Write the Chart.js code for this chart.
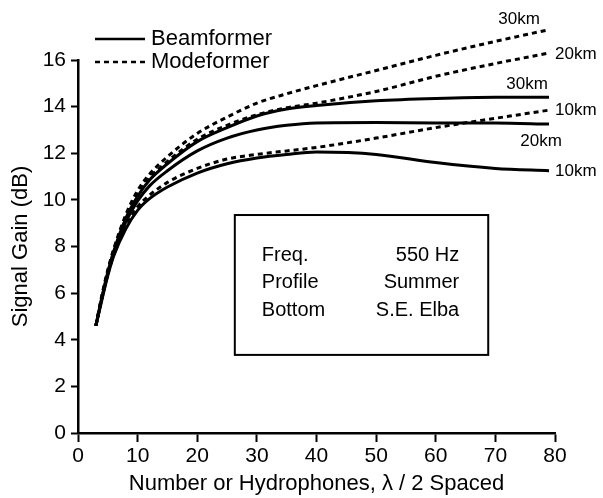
<!DOCTYPE html>
<html>
<head>
<meta charset="utf-8">
<script src="https://cdn.jsdelivr.net/npm/chart.js@4.4.0/dist/chart.umd.min.js"></script>
<style>
  html, body { margin: 0; padding: 0; background: #fff; }
  #wrap { width: 603px; height: 498px; }
</style>
</head>
<body>
<div id="wrap"><canvas id="gainChart"></canvas></div>
<script>
// number of hydrophones (x) and signal gain in dB for each case
const hydrophones = [3, 4, 5, 6, 8, 10, 12, 15, 20, 25, 30, 35, 40, 50, 60, 70, 79];
const beam30 = [4.6, 5.8, 6.9, 7.8, 9.2, 10.15, 10.85, 11.55, 12.5, 13.1, 13.6, 13.9, 14.05, 14.25, 14.35, 14.4, 14.4];
const beam20 = [4.6, 5.8, 6.85, 7.75, 9.05, 9.95, 10.6, 11.25, 12.1, 12.65, 13.0, 13.2, 13.3, 13.32, 13.3, 13.3, 13.25];
const beam10 = [4.6, 5.7, 6.75, 7.6, 8.75, 9.55, 10.05, 10.55, 11.15, 11.55, 11.8, 11.95, 12.05, 11.95, 11.6, 11.35, 11.25];
const mode30 = [4.6, 5.9, 7.0, 7.9, 9.35, 10.4, 11.1, 11.85, 12.85, 13.55, 14.15, 14.55, 14.9, 15.55, 16.2, 16.8, 17.3];
const mode20 = [4.6, 5.85, 6.95, 7.85, 9.25, 10.25, 10.95, 11.65, 12.6, 13.2, 13.65, 13.95, 14.15, 14.65, 15.3, 15.85, 16.3];
const mode10 = [4.6, 5.75, 6.8, 7.65, 8.85, 9.7, 10.2, 10.75, 11.35, 11.75, 11.95, 12.1, 12.25, 12.65, 13.1, 13.5, 13.85];

const rangeLabels = ['30km', '20km', '10km'];
const legendNames = ['Beamformer', 'Modeformer'];
const xTicks = [0, 10, 20, 30, 40, 50, 60, 70, 80];
const yTicks = [0, 2, 4, 6, 8, 10, 12, 14, 16];
const infoRows = [['Freq.', '550 Hz'], ['Profile', 'Summer'], ['Bottom', 'S.E. Elba']];

const FONT = '"Liberation Sans", Arial, Helvetica, sans-serif';
const DOTS = [5, 4];

function pts(ys) {
    return hydrophones.map((x, i) => ({ x: x, y: ys[i] }));
}

// label placement next to the end of each curve
const endLabels = [
    { dx: -30, dy: -10, align: 'center' },  // mode 30
    { dx: 6, dy: 1, align: 'left' },        // mode 20
    { dx: -22, dy: -13, align: 'center' },  // beam 30
    { dx: 6, dy: 0, align: 'left' },        // mode 10
    { dx: -8, dy: 17, align: 'center' },    // beam 20
    { dx: 6, dy: 1, align: 'left' }         // beam 10
];

function line(label, ys, dashed) {
    return {
        label: label,
        data: pts(ys),
        borderColor: '#000',
        borderWidth: 3,
        borderDash: dashed ? DOTS : [],
        pointRadius: 0,
        cubicInterpolationMode: 'monotone',
        fill: false,
        clip: false
    };
}

const datasets = [
    line(rangeLabels[0], mode30, true),
    line(rangeLabels[1], mode20, true),
    line(rangeLabels[0], beam30, false),
    line(rangeLabels[2], mode10, true),
    line(rangeLabels[1], beam20, false),
    line(rangeLabels[2], beam10, false)
];

const annotations = {
    id: 'annotations',
    afterDatasetsDraw(chart) {
        const ctx = chart.ctx;
        const xs = chart.scales.x, ys = chart.scales.y;
        ctx.save();
        ctx.fillStyle = '#000';
        ctx.strokeStyle = '#000';

        // legend
        ctx.font = '22px ' + FONT;
        ctx.textBaseline = 'middle';
        ctx.textAlign = 'left';
        [[39, []], [62, DOTS]].forEach((row, i) => {
            ctx.lineWidth = 2.5;
            ctx.setLineDash(row[1]);
            ctx.beginPath();
            ctx.moveTo(95, row[0]);
            ctx.lineTo(145, row[0]);
            ctx.stroke();
            ctx.fillText(legendNames[i], 151, row[0]);
        });
        ctx.setLineDash([]);

        // range labels at curve ends
        ctx.font = '17px ' + FONT;
        chart.data.datasets.forEach((ds, i) => {
            const last = ds.data[ds.data.length - 1];
            const px = xs.getPixelForValue(last.x);
            const py = ys.getPixelForValue(last.y);
            const o = endLabels[i];
            ctx.textAlign = o.align;
            ctx.fillText(ds.label, px + o.dx, py + o.dy);
        });

        // info box
        const bx0 = xs.getPixelForValue(26.3), bx1 = xs.getPixelForValue(68.8);
        const by0 = ys.getPixelForValue(9.35), by1 = ys.getPixelForValue(3.35);
        ctx.lineWidth = 2;
        ctx.strokeRect(bx0, by0, bx1 - bx0, by1 - by0);
        ctx.font = '20px ' + FONT;
        infoRows.forEach((r, i) => {
            const ty = by0 + 40 + i * 27.5;
            ctx.textAlign = 'left';
            ctx.fillText(r[0], bx0 + 27, ty);
            ctx.textAlign = 'right';
            ctx.fillText(r[1], bx1 - 29, ty);
        });
        ctx.restore();
    }
};

new Chart(document.getElementById('gainChart'), {
    type: 'line',
    data: { datasets: datasets },
    options: {
        responsive: true,
        maintainAspectRatio: false,
        animation: false,
        layout: { padding: { top: 60, right: 48, left: 0, bottom: 0 } },
        plugins: {
            legend: { display: false },
            tooltip: { enabled: false }
        },
        scales: {
            x: {
                type: 'linear',
                min: 0,
                max: 80,
                afterFit: s => { s.height = 65; },
                afterBuildTicks: s => { s.ticks = xTicks.map(v => ({ value: v })); },
                border: { color: '#000', width: 2.5 },
                grid: { drawOnChartArea: false, drawTicks: true, tickLength: 9, tickColor: '#000', tickWidth: 2 },
                ticks: { color: '#000', padding: 2, maxRotation: 0, font: { family: FONT, size: 21 } },
                title: {
                    display: true,
                    text: 'Number or Hydrophones, λ / 2 Spaced',
                    color: '#000',
                    padding: { top: 0, bottom: 1 },
                    font: { family: FONT, size: 22 }
                }
            },
            y: {
                min: 0,
                max: 16,
                afterFit: s => { s.width = 78; },
                afterBuildTicks: s => { s.ticks = yTicks.map(v => ({ value: v })); },
                border: { color: '#000', width: 2.5 },
                grid: { drawOnChartArea: false, drawTicks: true, tickLength: 7, tickColor: '#000', tickWidth: 2 },
                ticks: { color: '#000', padding: 5, font: { family: FONT, size: 21 } },
                title: {
                    display: true,
                    text: 'Signal Gain (dB)',
                    color: '#000',
                    padding: { top: 8, bottom: 0 },
                    font: { family: FONT, size: 22 }
                }
            }
        }
    },
    plugins: [annotations]
});
</script>
</body>
</html>
